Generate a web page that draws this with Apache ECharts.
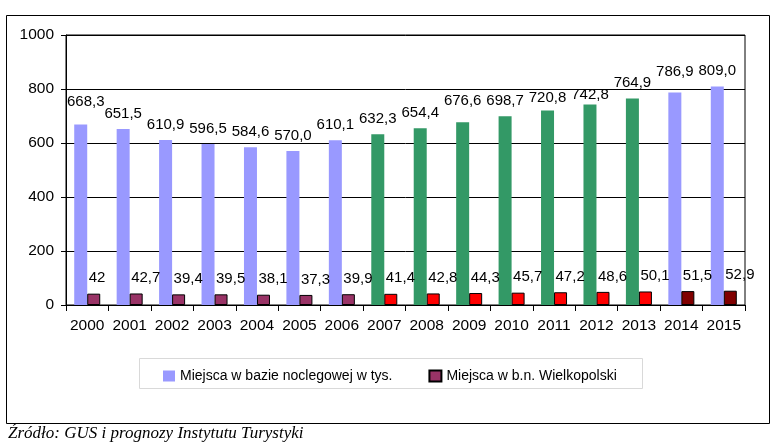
<!DOCTYPE html>
<html>
<head>
<meta charset="utf-8">
<script src="https://cdn.jsdelivr.net/npm/echarts@6/dist/echarts.min.js"></script>
<style>
html,body{margin:0;padding:0;background:#fff;}
#chart{width:779px;height:448px;}
</style>
</head>
<body>
<div id="chart"></div>
<script>
// ---- data ----
const years = ['2000','2001','2002','2003','2004','2005','2006','2007','2008','2009','2010','2011','2012','2013','2014','2015'];
const bedsPoland = [668.3,651.5,610.9,596.5,584.6,570.0,610.1,632.3,654.4,676.6,698.7,720.8,742.8,764.9,786.9,809.0];
const bedsWielkopolska = [42,42.7,39.4,39.5,38.1,37.3,39.9,41.4,42.8,44.3,45.7,47.2,48.6,50.1,51.5,52.9];
const seriesNames = ['Miejsca w bazie noclegowej w tys.','Miejsca w b.n. Wielkopolski'];
const yTickValues = [0,200,400,600,800,1000];
const sourceText = 'Źródło: GUS i prognozy Instytutu Turystyki';

// ---- styles ----
const FONT = "'Liberation Sans', Arial, sans-serif";
function period(i){ const y = +years[i]; return y <= 2006 ? 0 : (y <= 2013 ? 1 : 2); }
const colors1 = ['#9999FF','#339966','#9999FF'];
const colors2 = ['#993366','#FF0000','#800000'];
// label nudges (as placed in the original)
const nudge1 = {0:[5,-7], 9:[0,-6], 11:[0,3], 12:[0,6], 14:[0,-5]};

const chart = echarts.init(document.getElementById('chart'), null, {renderer:'canvas'});
chart.setOption({
  animation:false,
  backgroundColor:'#fff',
  grid:{left:66, top:35, width:679, height:270, show:true, borderColor:'#000', borderWidth:1, backgroundColor:'transparent'},
  legend:{
    left:158, top:364, itemWidth:12, itemHeight:11, itemGap:36, icon:'rect',
    textStyle:{fontFamily:FONT, fontSize:14, color:'#000'},
    data:seriesNames
  },
  xAxis:{
    type:'category', data:years,
    axisLine:{lineStyle:{color:'#000', width:1}},
    axisTick:{show:true, length:6, lineStyle:{color:'#000'}},
    axisLabel:{color:'#000', fontFamily:FONT, fontSize:15.5, margin:13, interval:0}
  },
  yAxis:{
    type:'value', min:yTickValues[0], max:yTickValues[yTickValues.length-1], interval:200,
    axisLine:{show:true, lineStyle:{color:'#000', width:1}},
    axisTick:{show:true, length:5, lineStyle:{color:'#000'}},
    axisLabel:{color:'#000', fontFamily:FONT, fontSize:15.5, margin:12, formatter:v=>String(v)},
    splitLine:{show:true, lineStyle:{color:'#000', width:1}}
  },
  series:[
    {
      name:seriesNames[0], type:'bar', barWidth:13, barGap:'0%',
      itemStyle:{color:colors1[0]},
      label:{show:true, position:'top', distance:8, color:'#000', fontFamily:FONT, fontSize:15,
        formatter:p=>p.value.toFixed(1).replace('.',',')},
      data:bedsPoland.map((v,i)=>{
        const d = {value:v, itemStyle:{color:colors1[period(i)]}};
        if(nudge1[i]) d.label = {offset:nudge1[i]};
        return d;
      })
    },
    {
      name:seriesNames[1], type:'bar', barWidth:13,
      itemStyle:{color:colors2[0], borderColor:'#000', borderWidth:1},
      label:{show:true, position:'top', distance:8, align:'left', offset:[-5,0], color:'#000', fontFamily:FONT, fontSize:15,
        formatter:p=>String(p.value).replace('.',',')},
      data:bedsWielkopolska.map((v,i)=>({value:v, itemStyle:{color:colors2[period(i)]}}))
    }
  ],
  graphic:[
    {type:'rect', silent:true, shape:{x:6.5, y:15.5, width:763, height:408}, style:{fill:'none', stroke:'#000', lineWidth:1}},
    {type:'rect', silent:true, shape:{x:139.5, y:358.5, width:503, height:30}, style:{fill:'none', stroke:'#d9d9d9', lineWidth:1}},
    {type:'text', left:8, top:425, style:{text:sourceText, font:"italic 17px 'Liberation Serif', 'Times New Roman', serif", fill:'#000'}}
  ]
});
</script>
</body>
</html>
